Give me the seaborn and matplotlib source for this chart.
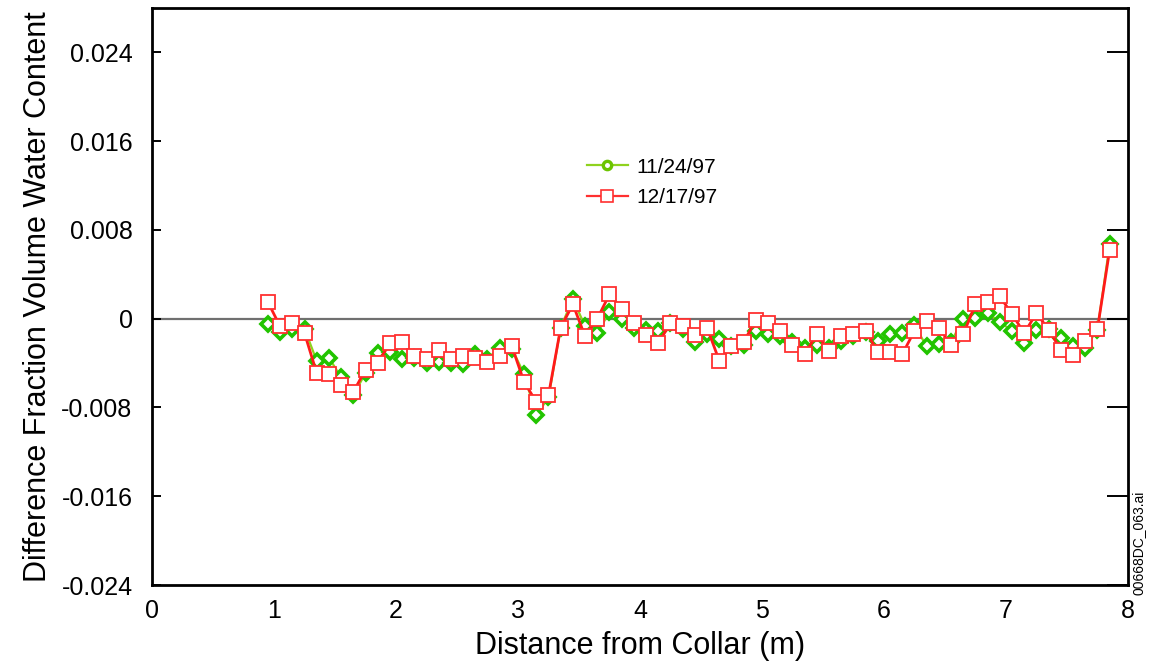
import numpy as np
import pandas as pd
import matplotlib
matplotlib.use("Agg")
import matplotlib.pyplot as plt
import seaborn as sns
from matplotlib.lines import Line2D

# Distance along the borehole (m)
distance = [round(0.95 + 0.1 * i, 2) for i in range(70)]

# Change in volumetric water content, 11/24/97
wc_1124 = [
    -0.0005, -0.0012, -0.0009, -0.0009, -0.0038, -0.0035, -0.0053, -0.0069, -0.0049, -0.0031,
    -0.0030, -0.0036, -0.0035, -0.0040, -0.0039, -0.0040, -0.0041, -0.0032, -0.0036, -0.0026,
    -0.0027, -0.0050, -0.0087, -0.0071, -0.0008, 0.0018, -0.0007, -0.0013, 0.0006, 0.0000,
    -0.0008, -0.0010, -0.0011, -0.0004, -0.0009, -0.0021, -0.0014, -0.0018, -0.0025, -0.0024,
    -0.0011, -0.0014, -0.0016, -0.0021, -0.0026, -0.0024, -0.0026, -0.0020, -0.0016, -0.0012,
    -0.0020, -0.0014, -0.0013, -0.0006, -0.0025, -0.0023, -0.0021, 0.0000, 0.0001, 0.0005,
    -0.0003, -0.0011, -0.0022, -0.0010, -0.0009, -0.0017, -0.0025, -0.0026, -0.0010, 0.0067,
]

# Change in volumetric water content, 12/17/97
wc_1217 = [
    0.0015, -0.0007, -0.0004, -0.0013, -0.0049, -0.0050, -0.0060, -0.0066, -0.0046, -0.0040,
    -0.0022, -0.0021, -0.0034, -0.0036, -0.0028, -0.0036, -0.0034, -0.0035, -0.0039, -0.0034,
    -0.0025, -0.0057, -0.0075, -0.0069, -0.0008, 0.0013, -0.0016, 0.0000, 0.0022, 0.0009,
    -0.0004, -0.0015, -0.0022, -0.0004, -0.0007, -0.0015, -0.0008, -0.0038, -0.0025, -0.0021,
    -0.0001, -0.0004, -0.0011, -0.0024, -0.0032, -0.0014, -0.0029, -0.0016, -0.0014, -0.0011,
    -0.0030, -0.0030, -0.0032, -0.0011, -0.0002, -0.0008, -0.0024, -0.0014, 0.0013, 0.0015,
    0.0020, 0.0004, -0.0013, 0.0005, -0.0010, -0.0028, -0.0033, -0.0020, -0.0009, 0.0062,
]

labels = ["11/24/97", "12/17/97"]
x_ticks = [0, 1, 2, 3, 4, 5, 6, 7, 8]
y_ticks = [-0.024, -0.016, -0.008, 0, 0.008, 0.016, 0.024]
y_tick_labels = ["-0.024", "-0.016", "-0.008", "0", "0.008", "0.016", "0.024"]
y_limits = (-0.024, 0.028)

df = pd.DataFrame({"distance": distance, labels[0]: wc_1124, labels[1]: wc_1217})

# plain white figure, black frame, no grid
plt.rcParams.update({
    "font.family": ["Liberation Sans", "DejaVu Sans"],
    "axes.grid": False,
    "axes.facecolor": "white",
    "figure.facecolor": "white",
})

fig = plt.figure(figsize=(11.49, 6.65), dpi=100)
ax = fig.add_axes([0.1323, 0.1203, 0.8494, 0.8677])

ax.axhline(0, color="#707070", lw=1.6, zorder=1)

sns.lineplot(data=df, x="distance", y=labels[0], ax=ax, color="#8fd21e", lw=1.6,
             marker="D", markersize=7, markerfacecolor="white",
             markeredgecolor="#22c400", markeredgewidth=2.6, zorder=3)
sns.lineplot(data=df, x="distance", y=labels[1], ax=ax, color="#ff1a1a", lw=2.0,
             marker="s", markersize=10, markerfacecolor="white",
             markeredgecolor="#ff3030", markeredgewidth=1.3, zorder=4)

ax.set_xlim(0, 8)
ax.set_ylim(*y_limits)
ax.set_xticks(x_ticks)
ax.set_xticklabels([str(t) for t in x_ticks])
ax.set_yticks(y_ticks)
ax.set_yticklabels(y_tick_labels)
ax.tick_params(axis="y", left=True, right=False, length=0,
               labelsize=18, labelcolor="black", pad=14)
ax.tick_params(axis="x", bottom=False, length=0, labelsize=18, labelcolor="black", pad=10)

# inward tick marks: short on the left edge, longer on the right edge
tick_tf = ax.get_yaxis_transform()
ax.hlines(y_ticks, 0, 0.0095, transform=tick_tf, color="black", lw=1.4,
          clip_on=False, zorder=5)
ax.hlines(y_ticks, 1 - 0.021, 1, transform=tick_tf, color="black", lw=1.4,
          clip_on=False, zorder=5)

for s in ax.spines.values():
    s.set_color("black")
    s.set_linewidth(2.0)

ax.set_xlabel("Distance from Collar (m)", fontsize=22, labelpad=6)
ax.set_ylabel("Difference Fraction Volume Water Content", fontsize=22, labelpad=6)

handles = [
    Line2D([], [], color="#8fd21e", lw=1.6, marker="o", markersize=6,
           markerfacecolor="white", markeredgecolor="#6cc400", markeredgewidth=2.4),
    Line2D([], [], color="#ff3030", lw=1.6, marker="s", markersize=9,
           markerfacecolor="white", markeredgecolor="#ff3030", markeredgewidth=1.2),
]
ax.legend(handles, labels, loc="upper left", bbox_to_anchor=(0.426, 0.773),
          frameon=False, fontsize=15, handlelength=2.0, handletextpad=0.4,
          labelspacing=0.55)

fig.text(0.991, 0.106, "00668DC_063.ai", rotation=90, fontsize=10,
         ha="center", va="bottom")

fig.savefig("out.png", dpi=100)
